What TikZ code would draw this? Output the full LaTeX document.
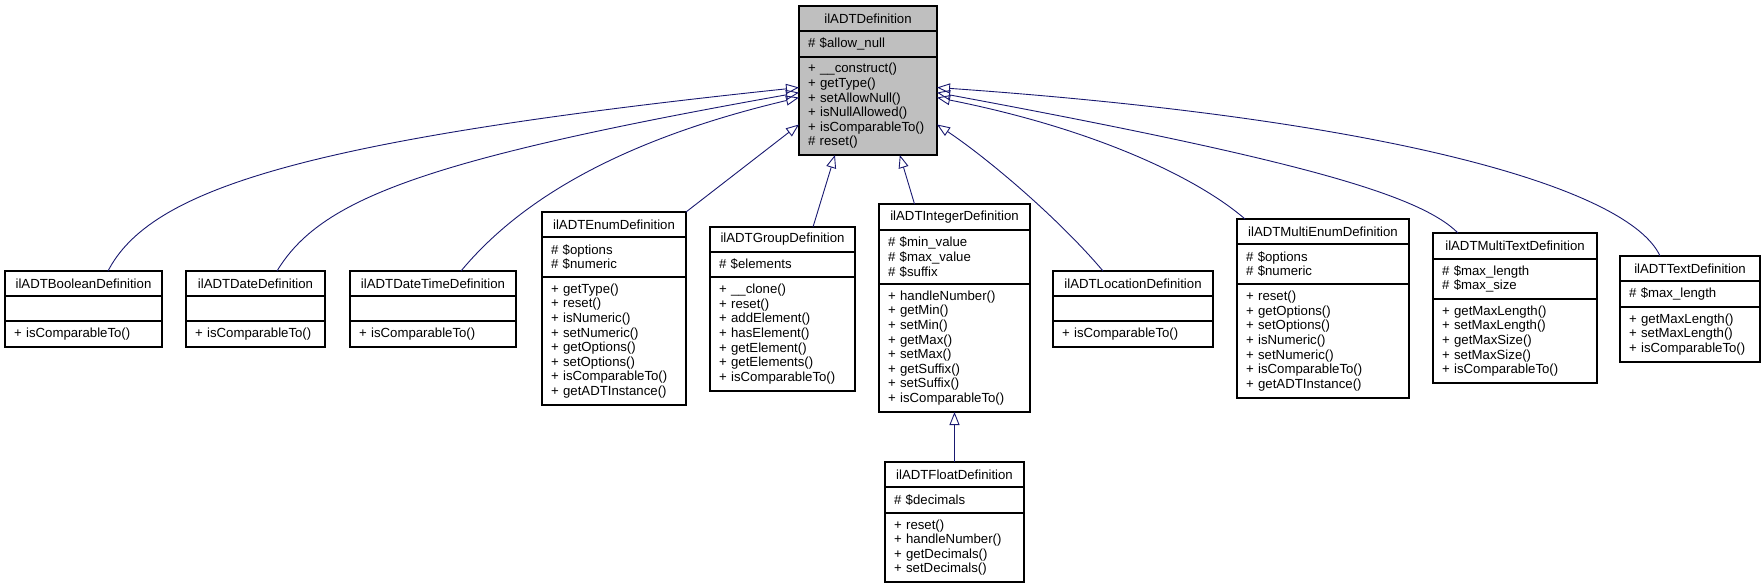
\documentclass[tikz,border=0pt]{standalone}
\usepackage{fontspec}
\setmainfont{Liberation Sans}
\usetikzlibrary{arrows.meta,positioning}
\definecolor{edgeblue}{RGB}{25,25,112}
\definecolor{rootgray}{RGB}{191,191,191}
\tikzset{
	classtitle/.style={shape=rectangle, draw=black, line width=1.1pt, outer sep=0pt, inner xsep=9pt, inner ysep=0pt, align=center, anchor=north west, font=\fontsize{13.2}{14.6}\selectfont},
	classpart/.style={shape=rectangle, draw=black, line width=1.1pt, outer sep=0pt, inner xsep=9pt, inner ysep=0pt, align=left, font=\fontsize{13.2}{14.6}\selectfont},
	inherits/.style={draw=edgeblue, line width=0.9pt, -{Triangle[open, length=13pt, width=10pt]}},
}
\begin{document}
\begin{tikzpicture}[x=1pt, y=-1pt]
	\useasboundingbox (0,0) rectangle (1763,588);
	% Classes: title, attributes, methods
	\node[classtitle, fill=rootgray, text width=120pt, minimum height=25pt] (root-t) at (799, 6){ilADTDefinition};
	\node[classpart, fill=rootgray, text width=120pt, minimum height=26pt, below=0pt of root-t] (root-a){\# \$allow\_null};
	\node[classpart, fill=rootgray, text width=120pt, minimum height=98pt, below=0pt of root-a] (root-m){+ \_\_construct()\\+ getType()\\+ setAllowNull()\\+ isNullAllowed()\\+ isComparableTo()\\\# reset()};
	\node[classtitle, text width=139pt, minimum height=25pt] (bool-t) at (5, 271){ilADTBooleanDefinition};
	\node[classpart, text width=139pt, minimum height=25pt, below=0pt of bool-t] (bool-a){};
	\node[classpart, text width=139pt, minimum height=26pt, below=0pt of bool-a] (bool-m){+ isComparableTo()};
	\node[classtitle, text width=121pt, minimum height=25pt] (date-t) at (186, 271){ilADTDateDefinition};
	\node[classpart, text width=121pt, minimum height=25pt, below=0pt of date-t] (date-a){};
	\node[classpart, text width=121pt, minimum height=26pt, below=0pt of date-a] (date-m){+ isComparableTo()};
	\node[classtitle, text width=148pt, minimum height=25pt] (dtime-t) at (350, 271){ilADTDateTimeDefinition};
	\node[classpart, text width=148pt, minimum height=25pt, below=0pt of dtime-t] (dtime-a){};
	\node[classpart, text width=148pt, minimum height=26pt, below=0pt of dtime-a] (dtime-m){+ isComparableTo()};
	\node[classtitle, text width=126pt, minimum height=25pt] (enum-t) at (542, 212){ilADTEnumDefinition};
	\node[classpart, text width=126pt, minimum height=40pt, below=0pt of enum-t] (enum-a){\# \$options\\\# \$numeric};
	\node[classpart, text width=126pt, minimum height=128pt, below=0pt of enum-a] (enum-m){+ getType()\\+ reset()\\+ isNumeric()\\+ setNumeric()\\+ getOptions()\\+ setOptions()\\+ isComparableTo()\\+ getADTInstance()};
	\node[classtitle, text width=127pt, minimum height=25pt] (group-t) at (710, 227){ilADTGroupDefinition};
	\node[classpart, text width=127pt, minimum height=25pt, below=0pt of group-t] (group-a){\# \$elements};
	\node[classpart, text width=127pt, minimum height=114pt, below=0pt of group-a] (group-m){+ \_\_clone()\\+ reset()\\+ addElement()\\+ hasElement()\\+ getElement()\\+ getElements()\\+ isComparableTo()};
	\node[classtitle, text width=133pt, minimum height=26pt] (int-t) at (879, 204){ilADTIntegerDefinition};
	\node[classpart, text width=133pt, minimum height=54pt, below=0pt of int-t] (int-a){\# \$min\_value\\\# \$max\_value\\\# \$suffix};
	\node[classpart, text width=133pt, minimum height=128pt, below=0pt of int-a] (int-m){+ handleNumber()\\+ getMin()\\+ setMin()\\+ getMax()\\+ setMax()\\+ getSuffix()\\+ setSuffix()\\+ isComparableTo()};
	\node[classtitle, text width=121pt, minimum height=25pt] (float-t) at (885, 462){ilADTFloatDefinition};
	\node[classpart, text width=121pt, minimum height=26pt, below=0pt of float-t] (float-a){\# \$decimals};
	\node[classpart, text width=121pt, minimum height=69pt, below=0pt of float-a] (float-m){+ reset()\\+ handleNumber()\\+ getDecimals()\\+ setDecimals()};
	\node[classtitle, text width=142pt, minimum height=25pt] (loc-t) at (1053, 271){ilADTLocationDefinition};
	\node[classpart, text width=142pt, minimum height=25pt, below=0pt of loc-t] (loc-a){};
	\node[classpart, text width=142pt, minimum height=26pt, below=0pt of loc-a] (loc-m){+ isComparableTo()};
	\node[classtitle, text width=154pt, minimum height=25pt] (menum-t) at (1237, 219){ilADTMultiEnumDefinition};
	\node[classpart, text width=154pt, minimum height=40pt, below=0pt of menum-t] (menum-a){\# \$options\\\# \$numeric};
	\node[classpart, text width=154pt, minimum height=114pt, below=0pt of menum-a] (menum-m){+ reset()\\+ getOptions()\\+ setOptions()\\+ isNumeric()\\+ setNumeric()\\+ isComparableTo()\\+ getADTInstance()};
	\node[classtitle, text width=146pt, minimum height=26pt] (mtext-t) at (1433, 233){ilADTMultiTextDefinition};
	\node[classpart, text width=146pt, minimum height=40pt, below=0pt of mtext-t] (mtext-a){\# \$max\_length\\\# \$max\_size};
	\node[classpart, text width=146pt, minimum height=84pt, below=0pt of mtext-a] (mtext-m){+ getMaxLength()\\+ setMaxLength()\\+ getMaxSize()\\+ setMaxSize()\\+ isComparableTo()};
	\node[classtitle, text width=122pt, minimum height=25pt] (text-t) at (1620, 256){ilADTTextDefinition};
	\node[classpart, text width=122pt, minimum height=26pt, below=0pt of text-t] (text-a){\# \$max\_length};
	\node[classpart, text width=122pt, minimum height=55pt, below=0pt of text-a] (text-m){+ getMaxLength()\\+ setMaxLength()\\+ isComparableTo()};
	% Inheritance edges
	\draw[inherits] ([xshift=24.5pt]bool-t.north) .. controls (150,190) and (300,140) .. (root-m.165);
	\draw[inherits] ([xshift=21.5pt]date-t.north) .. controls (320,200) and (420,160) .. (root-m.169);
	\draw[inherits] ([xshift=28pt]dtime-t.north) .. controls (520,200) and (620,140) .. (root-m.173);
	\draw[inherits] (enum-t.north east) -- (root-m.195);
	\draw[inherits] ([xshift=30.5pt]group-t.north) -- (root-m.236);
	\draw[inherits] ([xshift=-40pt]int-t.north) -- (root-m.303);
	\draw[inherits] (float-t.north) -- (int-m.south);
	\draw[inherits] ([xshift=-30pt]loc-t.north) .. controls (1060,220) and (990,160) .. (root-m.345);
	\draw[inherits] ([xshift=-78pt]menum-t.north) .. controls (1200,180) and (1100,130) .. (root-m.7);
	\draw[inherits] ([xshift=-57pt]mtext-t.north) .. controls (1420,195) and (1300,160) .. (root-m.11);
	\draw[inherits] ([xshift=-30pt]text-t.north) .. controls (1630,190) and (1400,120) .. (root-m.15);
\end{tikzpicture}
\end{document}
